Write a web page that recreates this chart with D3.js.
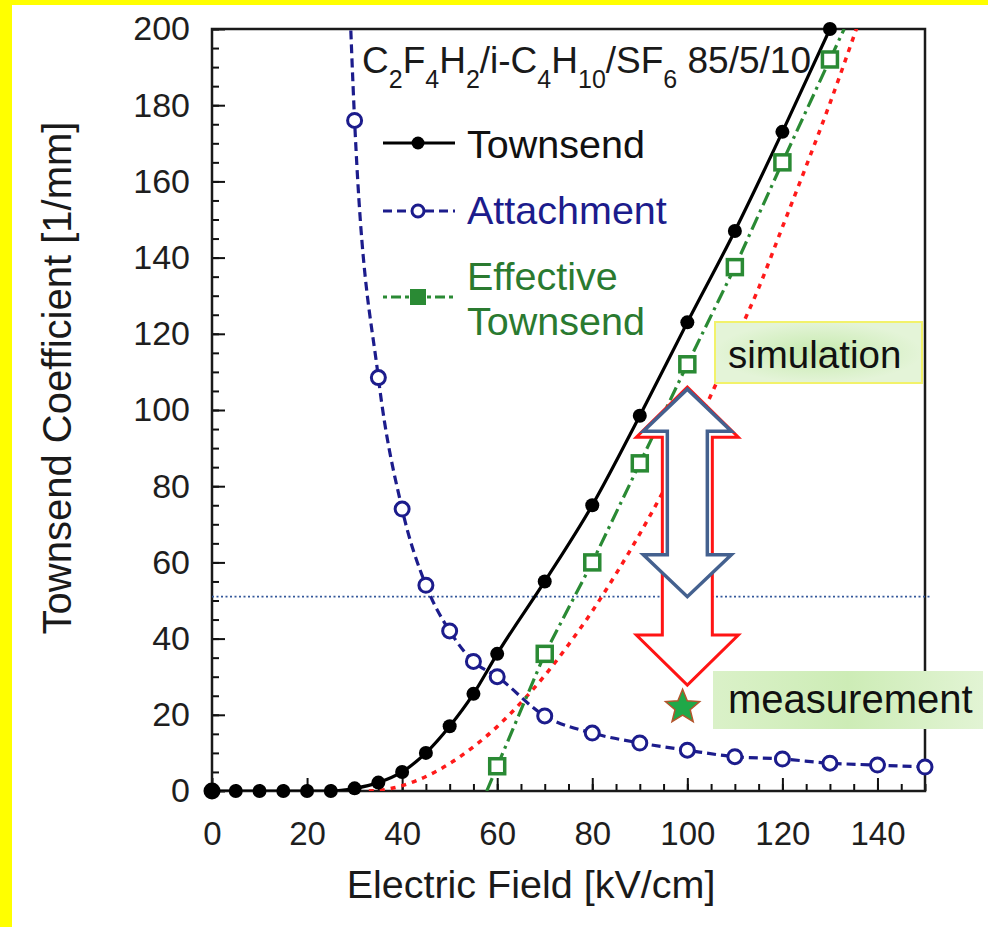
<!DOCTYPE html>
<html>
<head>
<meta charset="utf-8">
<script src="https://cdn.jsdelivr.net/npm/d3@7"></script>
<style>
  html, body { margin: 0; padding: 0; background: #fff; }
  svg text { font-family: "Liberation Sans", Arial, sans-serif; }
</style>
</head>
<body>
<svg id="chart" width="988" height="927"></svg>
<script>
// Townsend coefficient (black, solid)
var townX = [0, 5, 10, 15, 20, 25, 30, 35, 40, 45, 50, 55, 60, 70, 80, 90, 100, 110, 120, 130];
var townY = [0, 0, 0, 0, 0, 0, 0.7, 2.2, 5, 10, 17, 25.5, 36, 55, 75, 98.5, 123, 147, 173, 200];

// Attachment (navy, dashed) - first point sits above the plot top
var attX = [25, 30, 35, 40, 45, 50, 55, 60, 70, 80, 90, 100, 110, 120, 130, 140, 150];
var attY = [376, 176, 108.5, 74, 54, 42, 34, 30, 19.7, 15.2, 12.6, 10.7, 9, 8.4, 7.3, 6.8, 6.3];

// Effective Townsend (green, dash-dot)
var effX = [60, 70, 80, 90, 100, 110, 120, 130];
var effY = [6.5, 36, 60, 86, 112, 137.5, 165, 192];
var effEndX = [57.8, 133];
var effEndY = [0, 200];

// red dotted curve (no markers)
var redX = [33, 35, 40, 45, 50, 55, 60, 65, 70, 75, 80, 85, 90, 95, 100, 105, 110, 115, 120, 125, 130, 135, 140];
var redY = [0, 0.15, 1.4, 3.8, 7.2, 11.6, 16.9, 23.2, 30.3, 38.4, 47.2, 57, 67.5, 78.8, 91, 104, 118, 132, 148, 164, 180.5, 198, 216];

var xTicks = [0, 20, 40, 60, 80, 100, 120, 140];
var yTicks = [0, 20, 40, 60, 80, 100, 120, 140, 160, 180, 200];

// annotation values
var refLevel = 51;          // horizontal dotted line
var arrowX = 100;
var simTop = 106;
var measTip = 27.8;
var measX = 99, measY = 22;

var svg = d3.select("#chart");

// yellow frame of the slide
svg.append("rect").attr("x", 0).attr("y", 0).attr("width", 988).attr("height", 927).attr("fill", "#fff");
svg.append("rect").attr("x", 0).attr("y", 0).attr("width", 988).attr("height", 5).attr("fill", "#ffff00");
svg.append("rect").attr("x", 0).attr("y", 0).attr("width", 12).attr("height", 927).attr("fill", "#ffff00");

var x = d3.scaleLinear().domain([0, 150]).range([212, 925]);
var y = d3.scaleLinear().domain([0, 200]).range([791, 29]);

svg.append("defs").append("clipPath").attr("id", "plotClip")
  .append("rect")
  .attr("x", x(0)).attr("y", y(200))
  .attr("width", x(150) - x(0)).attr("height", y(0) - y(200));

var defs = svg.select("defs");
var g1 = defs.append("radialGradient").attr("id", "simFill");
g1.append("stop").attr("offset", "0%").attr("stop-color", "#c6eaae");
g1.append("stop").attr("offset", "100%").attr("stop-color", "#e4f4d8");
var g2 = defs.append("linearGradient").attr("id", "measFill");
g2.append("stop").attr("offset", "0%").attr("stop-color", "#daf1c8");
g2.append("stop").attr("offset", "50%").attr("stop-color", "#cdecb6");
g2.append("stop").attr("offset", "100%").attr("stop-color", "#e2f4d4");

// minor ticks
var minorX = d3.range(0, 151, 5);
var minorY = d3.range(0, 201, 5);

svg.append("g")
  .attr("transform", "translate(0," + y(0) + ")")
  .call(d3.axisBottom(x).tickValues(minorX).tickSize(-7).tickFormat(""))
  .call(function (g) { g.select(".domain").remove(); })
  .selectAll("line").attr("stroke", "#111").attr("stroke-width", 2);

svg.append("g")
  .attr("transform", "translate(" + x(0) + ",0)")
  .call(d3.axisLeft(y).tickValues(minorY).tickSize(-7).tickFormat(""))
  .call(function (g) { g.select(".domain").remove(); })
  .selectAll("line").attr("stroke", "#111").attr("stroke-width", 2);

// major ticks + labels
var xAxis = svg.append("g")
  .attr("transform", "translate(0," + y(0) + ")")
  .call(d3.axisBottom(x).tickValues(xTicks).tickSize(-13).tickPadding(31));
xAxis.select(".domain").remove();
xAxis.selectAll("line").attr("stroke", "#111").attr("stroke-width", 2);
xAxis.selectAll("text").attr("font-size", 33).attr("fill", "#1e1e1e")
  .style("font-family", "'Liberation Sans', Arial, sans-serif");

var yAxis = svg.append("g")
  .attr("transform", "translate(" + x(0) + ",0)")
  .call(d3.axisLeft(y).tickValues(yTicks).tickSize(-13).tickPadding(22));
yAxis.select(".domain").remove();
yAxis.selectAll("line").attr("stroke", "#111").attr("stroke-width", 2);
yAxis.selectAll("text").attr("font-size", 34).attr("fill", "#1e1e1e")
  .style("font-family", "'Liberation Sans', Arial, sans-serif");

// frame
svg.append("rect")
  .attr("x", x(0)).attr("y", y(200))
  .attr("width", x(150) - x(0)).attr("height", y(0) - y(200))
  .attr("fill", "none").attr("stroke", "#1a1a1a").attr("stroke-width", 2.5);

// reference dotted line
svg.append("line")
  .attr("x1", x(0)).attr("x2", x(150) + 5)
  .attr("y1", y(refLevel)).attr("y2", y(refLevel))
  .attr("stroke", "#34589a").attr("stroke-width", 1.8).attr("stroke-dasharray", "2 2.5");

// axis titles
svg.append("text")
  .attr("x", 531).attr("y", 898)
  .attr("text-anchor", "middle").attr("font-size", 39.5).attr("fill", "#1a1a1a")
  .text("Electric Field [kV/cm]");

svg.append("text")
  .attr("transform", "translate(71,378) rotate(-90)")
  .attr("text-anchor", "middle").attr("font-size", 40).attr("fill", "#1a1a1a")
  .text("Townsend Coefficient [1/mm]");

function pts(xs, ys) {
  return xs.map(function (d, i) { return { x: d, y: ys[i] }; });
}

var plot = svg.append("g").attr("clip-path", "url(#plotClip)");

var lineSmooth = d3.line().x(function (d) { return x(d.x); }).y(function (d) { return y(d.y); })
  .curve(d3.curveMonotoneX);
var lineStraight = d3.line().x(function (d) { return x(d.x); }).y(function (d) { return y(d.y); });

var redData = pts(redX, redY);
var townData = pts(townX, townY);
var attData = pts(attX, attY);
var effData = pts(effX, effY);
var effLine = [{ x: effEndX[0], y: effEndY[0] }].concat(effData).concat([{ x: effEndX[1], y: effEndY[1] }]);

plot.append("path").datum(redData)
  .attr("d", lineSmooth)
  .attr("fill", "none").attr("stroke", "#ff1a1a").attr("stroke-width", 3.5)
  .attr("stroke-dasharray", "5 6");

plot.append("path").datum(attData)
  .attr("d", lineSmooth)
  .attr("fill", "none").attr("stroke", "#1c1c8c").attr("stroke-width", 3.2)
  .attr("stroke-dasharray", "9 5");

plot.append("path").datum(effLine)
  .attr("d", lineStraight)
  .attr("fill", "none").attr("stroke", "#2a8a34").attr("stroke-width", 3.2)
  .attr("stroke-dasharray", "14 5 3 5");

plot.append("path").datum(townData)
  .attr("d", lineSmooth)
  .attr("fill", "none").attr("stroke", "#000").attr("stroke-width", 3.2);

// markers
svg.append("g").selectAll("circle")
  .data(attData.filter(function (d) { return d.y <= 200; }))
  .enter().append("circle")
  .attr("cx", function (d) { return x(d.x); })
  .attr("cy", function (d) { return y(d.y); })
  .attr("r", 7)
  .attr("fill", "#fff").attr("stroke", "#1c1c8c").attr("stroke-width", 3);

svg.append("g").selectAll("rect")
  .data(effData)
  .enter().append("rect")
  .attr("x", function (d) { return x(d.x) - 7.5; })
  .attr("y", function (d) { return y(d.y) - 7.5; })
  .attr("width", 15).attr("height", 15)
  .attr("fill", "#fff").attr("stroke", "#2a8a34").attr("stroke-width", 3.5);

svg.append("g").selectAll("circle")
  .data(townData)
  .enter().append("circle")
  .attr("cx", function (d) { return x(d.x); })
  .attr("cy", function (d) { return y(d.y); })
  .attr("r", function (d, i) { return i === 0 ? 8.5 : 7; })
  .attr("fill", "#000");

// title with subscripts
var title = svg.append("text")
  .attr("x", 362).attr("y", 73)
  .attr("font-size", 37).attr("fill", "#1a1a1a");
var parts = [["C", 0], ["2", 1], ["F", 0], ["4", 1], ["H", 0], ["2", 1], ["/i-C", 0], ["4", 1],
             ["H", 0], ["10", 1], ["/SF", 0], ["6", 1], [" 85/5/10", 0]];
var prevSub = 0;
parts.forEach(function (p) {
  var t = title.append("tspan").text(p[0]);
  if (p[1] !== prevSub) t.attr("dy", p[1] ? 15 : -15);
  t.attr("font-size", p[1] ? 25 : 37);
  prevSub = p[1];
});

// legend
var legX0 = 383, legX1 = 455, legMid = 418;
var leg = svg.append("g");
leg.append("line").attr("x1", legX0).attr("x2", legX1).attr("y1", 143).attr("y2", 143)
  .attr("stroke", "#000").attr("stroke-width", 3.2);
leg.append("circle").attr("cx", legMid).attr("cy", 143).attr("r", 6.5).attr("fill", "#000");
leg.append("text").attr("x", 467).attr("y", 158).attr("font-size", 39.5).attr("fill", "#111").text("Townsend");

leg.append("line").attr("x1", legX0).attr("x2", legX1).attr("y1", 211).attr("y2", 211)
  .attr("stroke", "#1c1c8c").attr("stroke-width", 3.2).attr("stroke-dasharray", "9 5");
leg.append("circle").attr("cx", legMid).attr("cy", 211).attr("r", 6).attr("fill", "#fff")
  .attr("stroke", "#1c1c8c").attr("stroke-width", 3);
leg.append("text").attr("x", 467).attr("y", 224).attr("font-size", 39.5).attr("fill", "#1c1c8c").text("Attachment");

leg.append("line").attr("x1", legX0).attr("x2", legX1).attr("y1", 297).attr("y2", 297)
  .attr("stroke", "#2a8a34").attr("stroke-width", 3.2).attr("stroke-dasharray", "4 4 10 4");
leg.append("rect").attr("x", legMid - 8).attr("y", 289).attr("width", 16).attr("height", 16)
  .attr("fill", "#2a8a34");
leg.append("text").attr("x", 467).attr("y", 290).attr("font-size", 39.5).attr("fill", "#2a7a30").text("Effective");
leg.append("text").attr("x", 467).attr("y", 335).attr("font-size", 39.5).attr("fill", "#2a7a30").text("Townsend");

// double-headed block arrows
function doubleArrow(cx, yTop, yBot, headHalf, shaftHalf, headH) {
  return "M" + cx + "," + yTop +
    "L" + (cx + headHalf) + "," + (yTop + headH) +
    "L" + (cx + shaftHalf) + "," + (yTop + headH) +
    "L" + (cx + shaftHalf) + "," + (yBot - headH) +
    "L" + (cx + headHalf) + "," + (yBot - headH) +
    "L" + cx + "," + yBot +
    "L" + (cx - headHalf) + "," + (yBot - headH) +
    "L" + (cx - shaftHalf) + "," + (yBot - headH) +
    "L" + (cx - shaftHalf) + "," + (yTop + headH) +
    "L" + (cx - headHalf) + "," + (yTop + headH) + "Z";
}

svg.append("path")
  .attr("d", doubleArrow(x(arrowX), y(simTop), y(measTip), 51, 25, 50))
  .attr("fill", "#fff").attr("stroke", "#ff1414").attr("stroke-width", 3);
svg.append("path")
  .attr("d", doubleArrow(x(arrowX), y(simTop) + 2, y(refLevel), 44, 20, 42))
  .attr("fill", "#fff").attr("stroke", "#44618f").attr("stroke-width", 3.5);

// simulation label
svg.append("rect").attr("x", 715).attr("y", 322).attr("width", 207).attr("height", 61)
  .attr("fill", "url(#simFill)").attr("stroke", "#f2f26a").attr("stroke-width", 2);
svg.append("text").attr("x", 728).attr("y", 368).attr("font-size", 38.5).attr("fill", "#111")
  .text("simulation");

// measurement label
svg.append("rect").attr("x", 713).attr("y", 671).attr("width", 270).attr("height", 58)
  .attr("fill", "url(#measFill)");
svg.append("text").attr("x", 728).attr("y", 713).attr("font-size", 40).attr("fill", "#111")
  .text("measurement");

// measurement star
function starPath(cx, cy, R, r) {
  var p = [];
  for (var i = 0; i < 10; i++) {
    var a = -Math.PI / 2 + i * Math.PI / 5;
    var rad = i % 2 === 0 ? R : r;
    p.push([cx + rad * Math.cos(a), cy + rad * Math.sin(a)]);
  }
  return "M" + p.map(function (q) { return q[0].toFixed(1) + "," + q[1].toFixed(1); }).join("L") + "Z";
}
svg.append("path")
  .attr("d", starPath(x(measX), y(measY), 18, 8))
  .attr("fill", "#1fa848").attr("stroke", "#b4552c").attr("stroke-width", 1.5);
</script>
</body>
</html>
